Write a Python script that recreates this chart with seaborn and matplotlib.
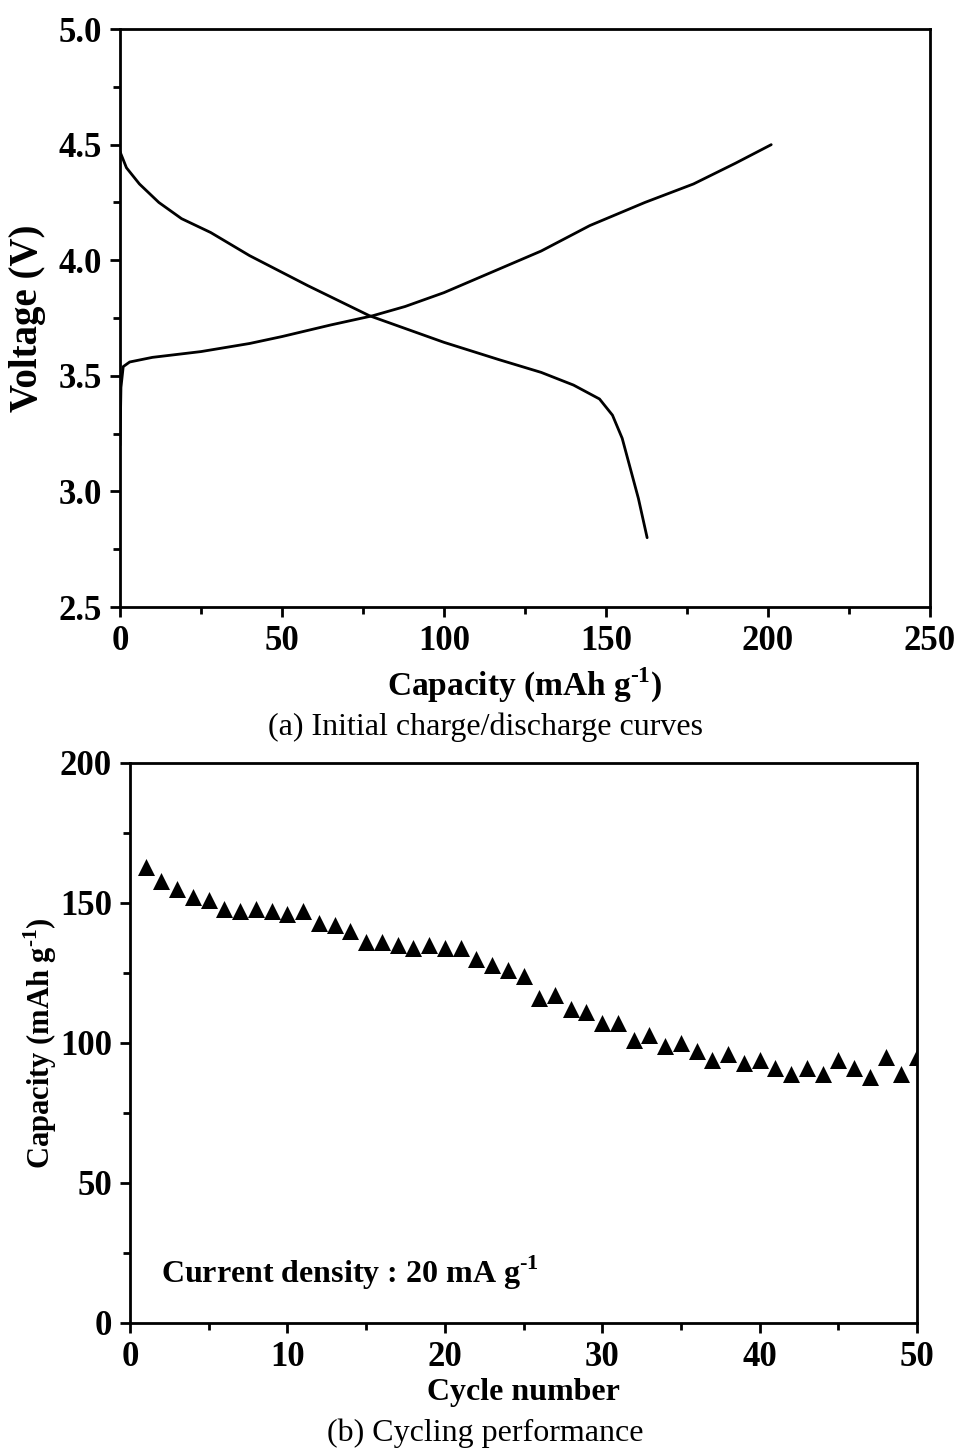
import matplotlib
matplotlib.use("Agg")
import matplotlib.pyplot as plt
import seaborn as sns
import pandas as pd
from matplotlib.ticker import MultipleLocator

# ---- data ----
charge_cap = [0, 0.3, 1, 3, 10, 25, 40, 50, 65, 78, 88, 100, 115, 130, 145, 162, 177, 190, 201]
charge_v = [3.20, 3.45, 3.54, 3.56, 3.58, 3.605, 3.64, 3.67, 3.72, 3.76, 3.80, 3.86, 3.95, 4.04,
            4.15, 4.25, 4.33, 4.42, 4.50]
dis_cap = [0, 2, 6, 12, 19, 28, 40, 58, 77, 100, 117, 130, 140, 148, 152, 155, 157.5, 160, 162.7]
dis_v = [4.47, 4.40, 4.33, 4.25, 4.18, 4.12, 4.02, 3.89, 3.76, 3.645, 3.57, 3.515, 3.46, 3.40,
         3.33, 3.23, 3.10, 2.97, 2.80]

cycles = list(range(1, 51))
capacity = [163, 158, 155, 152, 151, 148, 147, 148, 147, 146,
            147, 143, 142, 140, 136, 136, 135, 134, 135, 134,
            134, 130, 128, 126, 124, 116, 117, 112, 111, 107,
            107, 101, 103, 99, 100, 97, 94, 96, 93, 94,
            91, 89, 91, 89, 94, 91, 88, 95, 89, 95]

sns.set_style("ticks")
plt.rcParams['font.family'] = ['Liberation Serif', 'DejaVu Serif']
plt.rcParams['mathtext.fontset'] = 'custom'
plt.rcParams['mathtext.rm'] = 'Liberation Serif'
plt.rcParams['mathtext.bf'] = 'Liberation Serif:bold'
for k in ['text.color', 'axes.labelcolor', 'xtick.color', 'ytick.color', 'axes.edgecolor']:
    plt.rcParams[k] = 'black'

FS_TICK = 25
FS = 23
SUP = "$^{\\mathbf{\u2010}\\mathbf{1}}$"

fig = plt.figure(figsize=(9.56, 14.53), dpi=100)
ax1 = fig.add_axes([0.1255, 0.5822, 0.8473, 0.3978])
ax2 = fig.add_axes([0.136, 0.0895, 0.8232, 0.3854])

df_c = pd.DataFrame({"cap": charge_cap, "v": charge_v})
df_d = pd.DataFrame({"cap": dis_cap, "v": dis_v})
sns.lineplot(data=df_c, x="cap", y="v", ax=ax1, color="black", lw=2, sort=False, estimator=None)
sns.lineplot(data=df_d, x="cap", y="v", ax=ax1, color="black", lw=2, sort=False, estimator=None)
ax1.set_xlim(0, 250)
ax1.set_ylim(2.5, 5.0)
ax1.xaxis.set_major_locator(MultipleLocator(50))
ax1.xaxis.set_minor_locator(MultipleLocator(25))
ax1.yaxis.set_major_locator(MultipleLocator(0.5))
ax1.yaxis.set_minor_locator(MultipleLocator(0.25))
ax1.set_xlabel("Capacity (mAh g" + SUP + ")", fontsize=24, fontweight="bold", va="center")
ax1.set_ylabel("Voltage (V)", fontsize=28, fontweight="bold", va="center")
ax1.xaxis.set_label_coords(0.5, -(685 - 607) / 578)
ax1.yaxis.set_label_coords((28 - 120) / 810, 0.5)

df2 = pd.DataFrame({"cycle": cycles, "cap": capacity})
sns.scatterplot(data=df2, x="cycle", y="cap", ax=ax2, marker="^", s=150, color="black",
                edgecolor="black", linewidth=0, clip_on=True)
ax2.set_xlim(0, 50)
ax2.set_ylim(0, 200)
ax2.xaxis.set_major_locator(MultipleLocator(10))
ax2.xaxis.set_minor_locator(MultipleLocator(5))
ax2.yaxis.set_major_locator(MultipleLocator(50))
ax2.yaxis.set_minor_locator(MultipleLocator(25))
ax2.set_xlabel("Cycle number", fontsize=FS, fontweight="bold", va="center")
ax2.set_ylabel("Capacity (mAh g" + SUP + ")", fontsize=22, fontweight="bold", va="center")
ax2.xaxis.set_label_coords(0.5, -(1393 - 1323) / 560)
ax2.yaxis.set_label_coords((40 - 130) / 787, 0.5)
ax2.text(2, 18, "Current density : 20 mA g" + SUP, fontsize=FS, fontweight="bold",
         va="center", ha="left")

for ax in (ax1, ax2):
    for sp in ax.spines.values():
        sp.set_visible(True)
        sp.set_linewidth(2)
        sp.set_color("black")
    ax.tick_params(which="major", direction="out", length=7, width=2, labelsize=FS_TICK, pad=6)
    ax.tick_params(which="minor", direction="out", length=5, width=2)
    for lab in ax.get_xticklabels() + ax.get_yticklabels():
        lab.set_fontweight("bold")

fig.text(485 / 956, 1 - 727 / 1453, "(a) Initial charge/discharge curves", fontsize=FS,
         ha="center", va="center")
fig.text(485 / 956, 1 - 1433 / 1453, "(b) Cycling performance", fontsize=FS,
         ha="center", va="center")

fig.savefig("out.png", dpi=100, facecolor="white")
